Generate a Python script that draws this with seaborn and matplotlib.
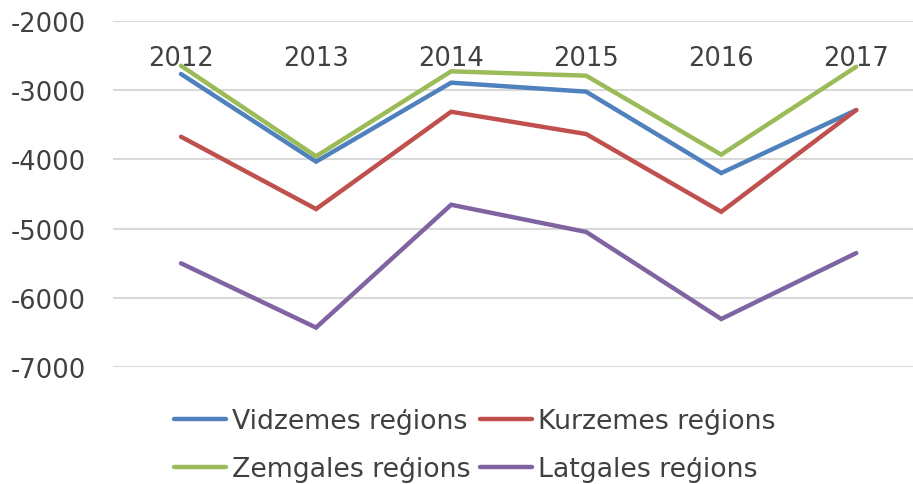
#!/usr/bin/env python
"""
  Regional population change, 2012-2017
"""

import matplotlib
matplotlib.use('Agg')
import matplotlib.pyplot as plt
import seaborn as sns
import pandas as pd

years = ["2012", "2013", "2014", "2015", "2016", "2017"]
regions = ["Vidzemes reģions", "Kurzemes reģions", "Zemgales reģions", "Latgales reģions"]

vidzeme = [-2766, -4032, -2891, -3021, -4197, -3286]
kurzeme = [-3672, -4717, -3311, -3633, -4757, -3286]
zemgale = [-2646, -3955, -2727, -2790, -3931, -2660]
latgale = [-5501, -6430, -4655, -5048, -6306, -5353]

colors = ["#4F81BD", "#C0504D", "#9BBB59", "#8064A2"]
yticks = [-2000, -3000, -4000, -5000, -6000, -7000]
TEXT = "#404040"


def main():
  # long form table for seaborn
  rows = []
  for name, vals in zip(regions, (vidzeme, kurzeme, zemgale, latgale)):
    for i, v in enumerate(vals):
      rows.append([i, years[i], name, v])
  df = pd.DataFrame(rows, columns=["pos", "year", "region", "value"])

  sns.set_style("white")
  plt.rcParams['font.family'] = ['DejaVu Sans']

  fig = plt.figure(figsize=(9.13, 4.85), dpi=100)
  ax = fig.add_axes([0.1243, 0.2412, 0.8757, 0.7134])

  sns.lineplot(data=df, x="pos", y="value", hue="region", hue_order=regions,
               palette=colors, linewidth=3.2, ax=ax, legend=True, zorder=3)
  for line in ax.lines:
    line.set_solid_capstyle("round")
    line.set_solid_joinstyle("miter")

  ax.set_xlim(-0.5, 5.42)
  ax.set_ylim(-7000, -2000)
  ax.set_yticks(yticks)
  ax.set_yticklabels([str(t) for t in yticks])
  ax.set_xticks(range(len(years)))
  ax.set_xticklabels(years)
  ax.set(xlabel="", ylabel="")

  ax.grid(axis="y", color="#D9D9D9", linewidth=1.5, zorder=0)
  ax.grid(axis="x", visible=False)
  for s in ax.spines.values():
    s.set_visible(False)

  ax.tick_params(axis="y", length=0, pad=20, labelsize=18.5, labelcolor=TEXT)
  ax.tick_params(axis="x", length=0, labeltop=True, labelbottom=False,
                 pad=-36, labelsize=18.5, labelcolor=TEXT)

  # legend fills by column, so reorder to read row by row
  handles, labels = ax.get_legend_handles_labels()
  ax.legend_.remove()
  order = [0, 2, 1, 3]
  leg = fig.legend([handles[i] for i in order], [labels[i] for i in order],
                   loc="center", bbox_to_anchor=(0.52, 0.080),
                   ncol=2, frameon=False, fontsize=19.3, handlelength=1.95,
                   handletextpad=0.2, columnspacing=0.37, labelspacing=0.8,
                   borderpad=0)
  for t in leg.get_texts():
    t.set_color(TEXT)

  fig.savefig("out.png", dpi=100)


if __name__ == "__main__":
  main()
